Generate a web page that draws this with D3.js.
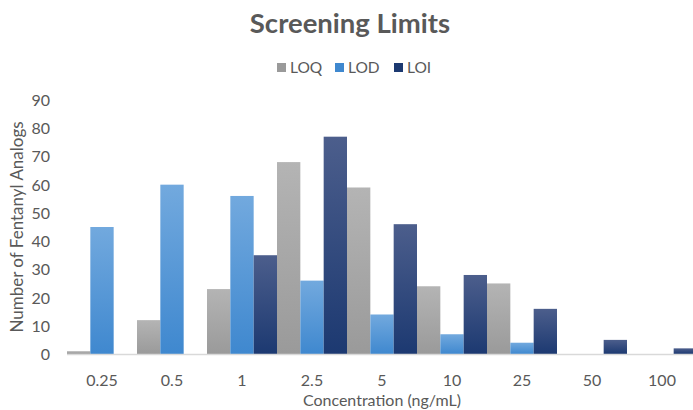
<!DOCTYPE html>
<html>
<head>
<meta charset="utf-8">
<script src="https://cdn.jsdelivr.net/npm/d3@7"></script>
<style>
  body { margin: 0; background: #fff; }
  svg { display: block; font-family: Lato, "Open Sans", sans-serif; }
</style>
</head>
<body>
<svg width="693" height="410"></svg>
<script>
// Screening limits chart - grouped bars per concentration
const categories = ['0.25', '0.5', '1', '2.5', '5', '10', '25', '50', '100'];
const seriesNames = ['LOQ', 'LOD', 'LOI'];
const loq = [1, 12, 23, 68, 59, 24, 25, 0, 0];
const lod = [45, 60, 56, 26, 14, 7, 4, 0, 0];
const loi = [0, 0, 35, 77, 46, 28, 16, 5, 2];
const yTicks = [0, 10, 20, 30, 40, 50, 60, 70, 80, 90];

const colors = {
	LOQ: ['#b4b4b4', '#9a9a9a'],
	LOD: ['#72a9de', '#3f88cf'],
	LOI: ['#4c5e8c', '#1c3971'],
};

const data = categories.map((c, i) => ({
	cat: c,
	values: [
		{ key: 'LOQ', value: loq[i] },
		{ key: 'LOD', value: lod[i] },
		{ key: 'LOI', value: loi[i] },
	],
}));

const svg = d3.select('svg');
const plotLeft = 67, plotRight = 697, plotTop = 100, plotBottom = 354;

const x = d3.scaleBand().domain(categories).range([plotLeft, plotRight]).padding(0);
const xs = d3.scaleBand().domain(seriesNames).range([0, x.bandwidth()]).padding(0);
const y = d3.scaleLinear().domain([0, 90]).range([plotBottom, plotTop]);

// gradients
const defs = svg.append('defs');
seriesNames.forEach((s) => {
	const g = defs.append('linearGradient')
		.attr('id', 'grad-' + s)
		.attr('x1', 0).attr('y1', 0).attr('x2', 0).attr('y2', 1);
	g.append('stop').attr('offset', '0%').attr('stop-color', colors[s][0]);
	g.append('stop').attr('offset', '100%').attr('stop-color', colors[s][1]);
});

// title
svg.append('text')
	.attr('x', 350).attr('y', 33)
	.attr('text-anchor', 'middle')
	.attr('font-size', 27.5).attr('font-weight', 'bold')
	.attr('fill', '#595959')
	.text('Screening Limits');

// legend
const legendX = [277, 335, 394];
const legend = svg.append('g');
seriesNames.forEach((s, i) => {
	legend.append('rect')
		.attr('x', legendX[i]).attr('y', 63)
		.attr('width', 9).attr('height', 9)
		.attr('fill', colors[s][1]);
	legend.append('text')
		.attr('x', legendX[i] + 13).attr('y', 72.5)
		.attr('font-size', 15.5).attr('fill', '#595959')
		.text(s);
});

// bars
const groups = svg.append('g')
	.selectAll('g')
	.data(data)
	.join('g')
	.attr('transform', (d) => `translate(${x(d.cat)},0)`);

groups.selectAll('rect')
	.data((d) => d.values.filter((v) => v.value > 0))
	.join('rect')
	.attr('x', (d) => xs(d.key))
	.attr('y', (d) => y(d.value))
	.attr('width', xs.bandwidth())
	.attr('height', (d) => plotBottom - y(d.value))
	.attr('fill', (d) => `url(#grad-${d.key})`);

// x axis line
svg.append('line')
	.attr('x1', plotLeft).attr('x2', plotRight)
	.attr('y1', plotBottom + 0.5).attr('y2', plotBottom + 0.5)
	.attr('stroke', '#d9d9d9').attr('stroke-width', 1.5);

// x tick labels
svg.append('g')
	.selectAll('text')
	.data(categories)
	.join('text')
	.attr('x', (d) => x(d) + x.bandwidth() / 2)
	.attr('y', 386)
	.attr('text-anchor', 'middle')
	.attr('font-size', 16).attr('fill', '#595959')
	.text((d) => d);

// y tick labels
svg.append('g')
	.selectAll('text')
	.data(yTicks)
	.join('text')
	.attr('x', 50)
	.attr('y', (d) => y(d) + 6)
	.attr('text-anchor', 'end')
	.attr('font-size', 16).attr('fill', '#595959')
	.text((d) => d);

// axis titles
svg.append('text')
	.attr('x', 382).attr('y', 406)
	.attr('text-anchor', 'middle')
	.attr('font-size', 16).attr('fill', '#595959')
	.text('Concentration (ng/mL)');

svg.append('text')
	.attr('transform', 'translate(23,227) rotate(-90)')
	.attr('text-anchor', 'middle')
	.attr('font-size', 17).attr('fill', '#595959')
	.text('Number of Fentanyl Analogs');
</script>
</body>
</html>
